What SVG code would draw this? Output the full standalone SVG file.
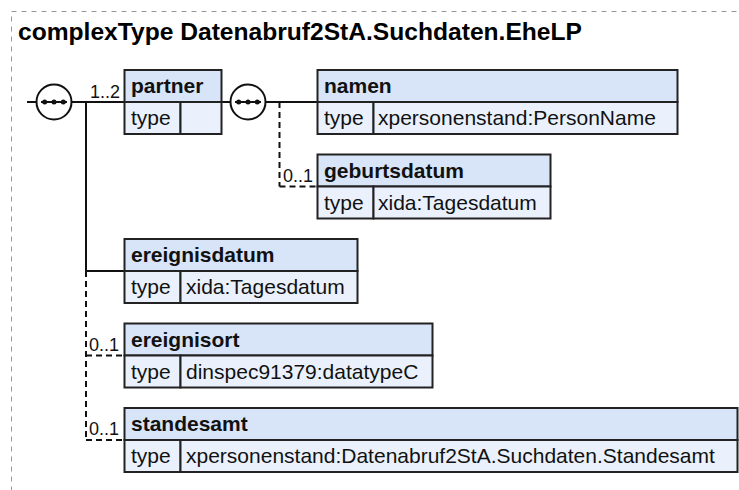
<svg xmlns="http://www.w3.org/2000/svg" width="739" height="490" viewBox="0 0 739 490">
<style>
.frame{fill:none;stroke:#999;stroke-width:1;stroke-dasharray:5,5}
.title{font-family:"Liberation Sans",Arial,sans-serif;font-weight:bold;font-size:24.6px;fill:#000}
.hdr{fill:#d8e4f8;stroke:#222;stroke-width:2}
.row{fill:#eaf1fc;stroke:#222;stroke-width:2}
.name{font-family:"Liberation Sans",Arial,sans-serif;font-weight:bold;font-size:21px;fill:#111}
.txt{font-family:"Liberation Sans",Arial,sans-serif;font-size:21px;fill:#111}
.card{font-family:"Liberation Sans",Arial,sans-serif;font-size:18px;fill:#111}
.ln{fill:none;stroke:#111;stroke-width:2}
.dl{fill:none;stroke:#111;stroke-width:2;stroke-dasharray:6,4}
.seq{fill:#fff;stroke:#111;stroke-width:2}
.dot{fill:#111}
</style>
<defs>
<g id="seqIcon">
<circle class="seq" cx="0" cy="0" r="17.5"/>
<line x1="-13" y1="0" x2="13" y2="0" stroke="#111" stroke-width="2"/>
<circle class="dot" cx="-9.3" cy="0" r="2.5"/>
<circle class="dot" cx="0" cy="0" r="2.5"/>
<circle class="dot" cx="9.3" cy="0" r="2.5"/>
</g>
</defs>
<rect class="frame" x="11.5" y="11.5" width="800" height="600"/>
<text class="title" x="18" y="40">complexType Datenabruf2StA.Suchdaten.EheLP</text>

<g id="connectors">
<line class="ln" x1="27" y1="102" x2="36.5" y2="102"/>
<line class="ln" x1="71.5" y1="102" x2="124.5" y2="102"/>
<line class="ln" x1="86" y1="102" x2="86" y2="271"/>
<line class="ln" x1="86" y1="271" x2="124.5" y2="271"/>
<line class="dl" x1="86" y1="271" x2="86" y2="440"/>
<line class="dl" x1="86" y1="355.5" x2="124.5" y2="355.5"/>
<line class="dl" x1="86" y1="440" x2="124.5" y2="440"/>
<line class="ln" x1="221.5" y1="102" x2="230.5" y2="102"/>
<line class="ln" x1="265.5" y1="102" x2="317.5" y2="102"/>
<line class="dl" x1="279.5" y1="102" x2="279.5" y2="186.5"/>
<line class="dl" x1="279.5" y1="186.5" x2="317.5" y2="186.5"/>
<text class="card" x="90" y="98">1..2</text>
<text class="card" x="283" y="182">0..1</text>
<text class="card" x="89" y="351">0..1</text>
<text class="card" x="89" y="435">0..1</text>
</g>

<g id="seq1"><use href="#seqIcon" x="54" y="102"/></g>
<g id="seq2"><use href="#seqIcon" x="248" y="102"/></g>

<g id="partner">
<rect class="hdr" x="124.5" y="70" width="97" height="32"/>
<rect class="row" x="124.5" y="102" width="56" height="32"/>
<rect class="row" x="180.5" y="102" width="41" height="32"/>
<text class="name" x="131" y="93">partner</text>
<text class="txt" x="131" y="125">type</text>
</g>

<g id="namen">
<rect class="hdr" x="317.5" y="70" width="360" height="32"/>
<rect class="row" x="317.5" y="102" width="56" height="32"/>
<rect class="row" x="373.5" y="102" width="304" height="32"/>
<text class="name" x="324" y="93">namen</text>
<text class="txt" x="324" y="125">type</text>
<text class="txt" x="378" y="125">xpersonenstand:PersonName</text>
</g>

<g id="geburtsdatum">
<rect class="hdr" x="317.5" y="154.5" width="233" height="32"/>
<rect class="row" x="317.5" y="186.5" width="56" height="32"/>
<rect class="row" x="373.5" y="186.5" width="177" height="32"/>
<text class="name" x="324" y="177.5">geburtsdatum</text>
<text class="txt" x="324" y="209.5">type</text>
<text class="txt" x="378" y="209.5">xida:Tagesdatum</text>
</g>

<g id="ereignisdatum">
<rect class="hdr" x="124.5" y="239" width="233" height="32"/>
<rect class="row" x="124.5" y="271" width="56" height="32"/>
<rect class="row" x="180.5" y="271" width="177" height="32"/>
<text class="name" x="131" y="262">ereignisdatum</text>
<text class="txt" x="131" y="294">type</text>
<text class="txt" x="186" y="294">xida:Tagesdatum</text>
</g>

<g id="ereignisort">
<rect class="hdr" x="124.5" y="323.5" width="308" height="32"/>
<rect class="row" x="124.5" y="355.5" width="56" height="32"/>
<rect class="row" x="180.5" y="355.5" width="252" height="32"/>
<text class="name" x="131" y="346.5">ereignisort</text>
<text class="txt" x="131" y="378.5">type</text>
<text class="txt" x="186" y="378.5">dinspec91379:datatypeC</text>
</g>

<g id="standesamt">
<rect class="hdr" x="124.5" y="408" width="613" height="32"/>
<rect class="row" x="124.5" y="440" width="56" height="32"/>
<rect class="row" x="180.5" y="440" width="557" height="32"/>
<text class="name" x="131" y="431">standesamt</text>
<text class="txt" x="131" y="463">type</text>
<text class="txt" x="186" y="463">xpersonenstand:Datenabruf2StA.Suchdaten.Standesamt</text>
</g>
</svg>
